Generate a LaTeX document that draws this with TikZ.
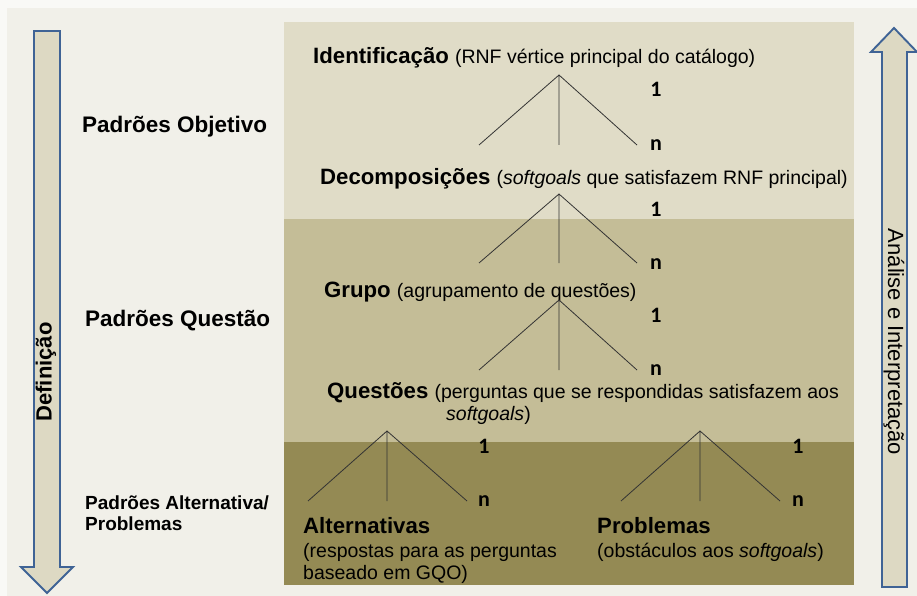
\documentclass[tikz,border=0pt]{standalone}
\usepackage{fontspec}
\setmainfont{Liberation Sans}
\newfontfamily\numfont{Carlito}
\usetikzlibrary{positioning}

\definecolor{pagebg}{HTML}{F1F0E9}
\definecolor{bandtop}{HTML}{E0DCC7}
\definecolor{bandmid}{HTML}{C4BD97}
\definecolor{bandlow}{HTML}{948A54}
\definecolor{arrowfill}{HTML}{DDD9C3}
\definecolor{arrowline}{HTML}{3F6395}

\newcommand{\titfont}{\fontsize{22.2}{26}\selectfont\bfseries}
\newcommand{\notefont}{\fontsize{19.5}{23}\selectfont\mdseries}
\newcommand{\levelfont}{\fontsize{22.5}{26}\selectfont\bfseries}
\newcommand{\smalllevelfont}{\fontsize{19}{21}\selectfont\bfseries}
\newcommand{\sidefont}{\fontsize{22}{26}\selectfont}

\tikzset{
  leg/.style={draw=black!80, line width=0.8pt},
  treetext/.style={anchor=base west, inner sep=0pt},
  card/.style={anchor=base, inner sep=0pt, font=\numfont\fontsize{22}{26}\selectfont\bfseries},
  bigarrow/.style={draw=arrowline, fill=arrowfill, line width=1.9pt, line join=miter}
}

\begin{document}
\begin{tikzpicture}[x=1pt, y=-1pt] % Catalogue levels

      \useasboundingbox (0,0) rectangle (917,596);
      \fill [white!60!pagebg] (0,0) rectangle (917,596);
      \fill [pagebg] (7,8) rectangle (917,596);

      % bands
      \fill [bandtop] (284,22) rectangle (854,219);
      \fill [bandmid] (284,219) rectangle (854,442);
      \fill [bandlow] (284,442) rectangle (854,585);

      % side arrows
      \draw [bigarrow] (34,31) -- (60,31) -- (60,567) -- (73,567)
      -- (47,593) -- (21,567) -- (34,567) -- cycle;
      \draw [bigarrow] (894,28) -- (917,52) -- (907,52) -- (907,587)
      -- (882,587) -- (882,52) -- (871,52) -- cycle;
      \node [rotate=90] (defin) at (46,372) {\sidefont\bfseries Definição};
      \node [rotate=-90] (analise) at (894,342) {\sidefont Análise e Interpretação};

      % level names
      \node [treetext] (lvlobj) at (82,133) {\levelfont Padrões Objetivo};
      \node [treetext] (lvlque) at (85,326) {\levelfont Padrões Questão};
      \node [treetext] (lvlalt) at (85,509) {\smalllevelfont Padrões Alternativa/};
      \node [treetext] (lvlprob) at (85,530) {\smalllevelfont Problemas};

      % tree texts
      \node [treetext] (ident) at (313,64)
      {\titfont Identificação \notefont(RNF vértice principal do catálogo)};
      \node [treetext] (decomp) at (320,184)
      {\titfont Decomposições \notefont(\textit{softgoals} que satisfazem RNF principal)};
      \node [treetext] (grupo) at (324,297)
      {\titfont Grupo \notefont(agrupamento de questões)};
      \node [treetext] (quest) at (327,398)
      {\titfont Questões \notefont(perguntas que se respondidas satisfazem aos};
      \node [treetext] (questb) at (446,420) {\notefont\textit{softgoals})};
      \node [treetext] (altern) at (303,533) {\titfont Alternativas};
      \node [treetext] (alternb) at (303,557) {\notefont(respostas para as perguntas};
      \node [treetext] (alternc) at (303,579) {\notefont baseado em GQO)};
      \node [treetext] (probl) at (597,533) {\titfont Problemas};
      \node [treetext] (problb) at (597,557) {\notefont(obstáculos aos \textit{softgoals})};

      % cardinalities
      \node [card] (oneA) at (656,97) {1};
      \node [card] (manyA) at (656,151) {n};
      \node [card] (oneB) at (656,216.5) {1};
      \node [card] (manyB) at (656,269.5) {n};
      \node [card] (oneC) at (656,322.5) {1};
      \node [card] (manyC) at (656,375.5) {n};
      \node [card] (oneD) at (484,453.5) {1};
      \node [card] (manyD) at (484,506.5) {n};
      \node [card] (oneE) at (798,453.5) {1};
      \node [card] (manyE) at (798,506.5) {n};

      % forks
      \coordinate (topA) at (559,75);
      \coordinate (legAl) at (479,145);
      \coordinate (legAm) at (559,145);
      \coordinate (legAr) at (637,145);
      \draw [leg] (legAl) -- (topA) -- (legAr) (topA) -- (legAm);

      \coordinate (topB) at (559,194);
      \coordinate (legBl) at (479,263);
      \coordinate (legBm) at (559,263);
      \coordinate (legBr) at (637,263);
      \draw [leg] (legBl) -- (topB) -- (legBr) (topB) -- (legBm);

      \coordinate (topC) at (559,300);
      \coordinate (legCl) at (479,370);
      \coordinate (legCm) at (559,370);
      \coordinate (legCr) at (637,370);
      \draw [leg] (legCl) -- (topC) -- (legCr) (topC) -- (legCm);

      \coordinate (topD) at (387,431);
      \coordinate (legDl) at (308,501);
      \coordinate (legDm) at (387,501);
      \coordinate (legDr) at (467,501);
      \draw [leg] (legDl) -- (topD) -- (legDr) (topD) -- (legDm);

      \coordinate (topE) at (700,431);
      \coordinate (legEl) at (621,501);
      \coordinate (legEm) at (700,501);
      \coordinate (legEr) at (780,501);
      \draw [leg] (legEl) -- (topE) -- (legEr) (topE) -- (legEm);

    \end{tikzpicture}
\end{document}
